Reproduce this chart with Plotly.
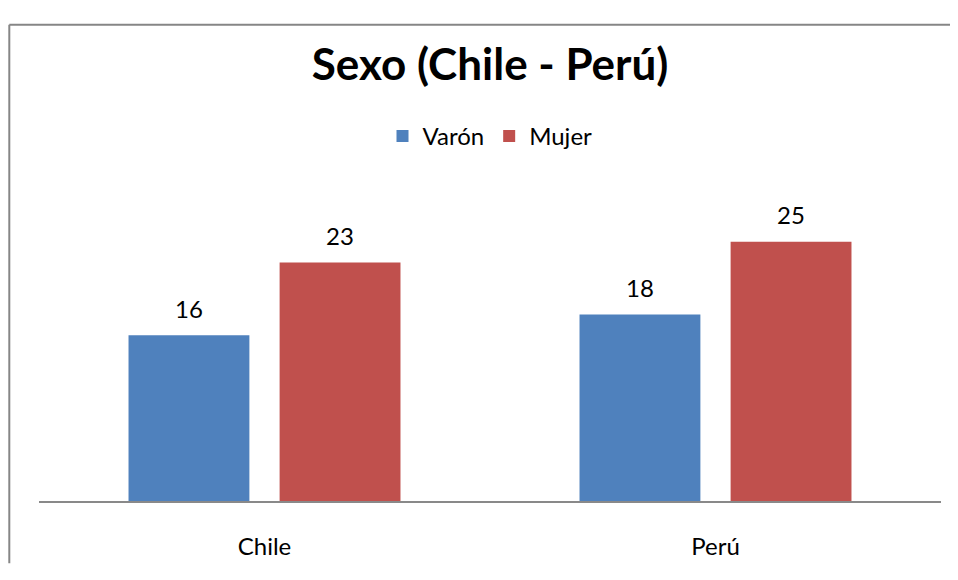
import plotly.graph_objects as go

categories = ['Chile', 'Perú']
series_names = ['Varón', 'Mujer']
varon = [16, 18]
mujer = [23, 25]
title_text = 'Sexo (Chile - Perú)'

COLORS = ['#4F81BD', '#C0504D']
FONT = 'Lato, Calibri, sans-serif'
# the page body keeps its default 8px margin, so the figure is drawn 8px in
OFF = 8
W, H = 958 - OFF, 580 - 2 * OFF
M = dict(l=39 - OFF, r=17, t=190 - OFF, b=580 - 522 - OFF)
BARGAP = 0.33
GROUPGAP = 0.2

fig = go.Figure()
for name, vals, col in zip(series_names, [varon, mujer], COLORS):
    fig.add_trace(go.Bar(x=categories, y=vals, name=name,
                         marker_color=col, marker_line_width=0))

# data labels above the bars, shifted to each bar's slot in the group
plot_w = W - M['l'] - M['r']
slot = plot_w / len(categories) * (1 - BARGAP) / len(series_names)
annotations = []
for i, vals in enumerate([varon, mujer]):
    shift = (i - (len(series_names) - 1) / 2) * slot
    for cat, v in zip(categories, vals):
        annotations.append(dict(x=cat, y=v, text=str(v), showarrow=False,
                                xshift=shift, yshift=27,
                                font=dict(family=FONT, size=24, color='#000000')))

# outer chart border: left and top edges only, the rest runs off the page
plot_h = H - M['t'] - M['b']
bx = (9.3 - OFF - M['l']) / plot_w
by = (H - M['b'] - (13.7 - OFF)) / plot_h
border = dict(color='#868686', width=2)

fig.update_layout(
    width=W, height=H,
    margin=M,
    paper_bgcolor='white', plot_bgcolor='white',
    barmode='group', bargap=BARGAP, bargroupgap=GROUPGAP,
    title=dict(text=f'<b>{title_text}</b>', x=0.5, xref='paper', xanchor='center',
               y=1 - (65 - OFF) / H, yanchor='middle',
               font=dict(family=FONT, size=44, color='#000000')),
    legend=dict(orientation='h', x=0.5, xanchor='center',
                yref='container', y=1 - (136.5 - OFF) / H, yanchor='middle',
                font=dict(family=FONT, size=24, color='#000000'),
                itemwidth=30, traceorder='normal'),
    xaxis=dict(showline=True, linecolor='#898989', linewidth=2,
               ticks='', showgrid=False, ticklabelstandoff=23,
               tickfont=dict(family=FONT, size=24, color='#000000')),
    yaxis=dict(range=[0, 30], visible=False, showgrid=False),
    annotations=annotations,
    shapes=[
        dict(type='line', xref='paper', yref='paper', x0=bx, x1=1.1, y0=by, y1=by,
             line=border, layer='below'),
        dict(type='line', xref='paper', yref='paper', x0=bx, x1=bx, y0=-0.2, y1=by,
             line=border, layer='below'),
    ],
)

fig.write_html('out.html')
